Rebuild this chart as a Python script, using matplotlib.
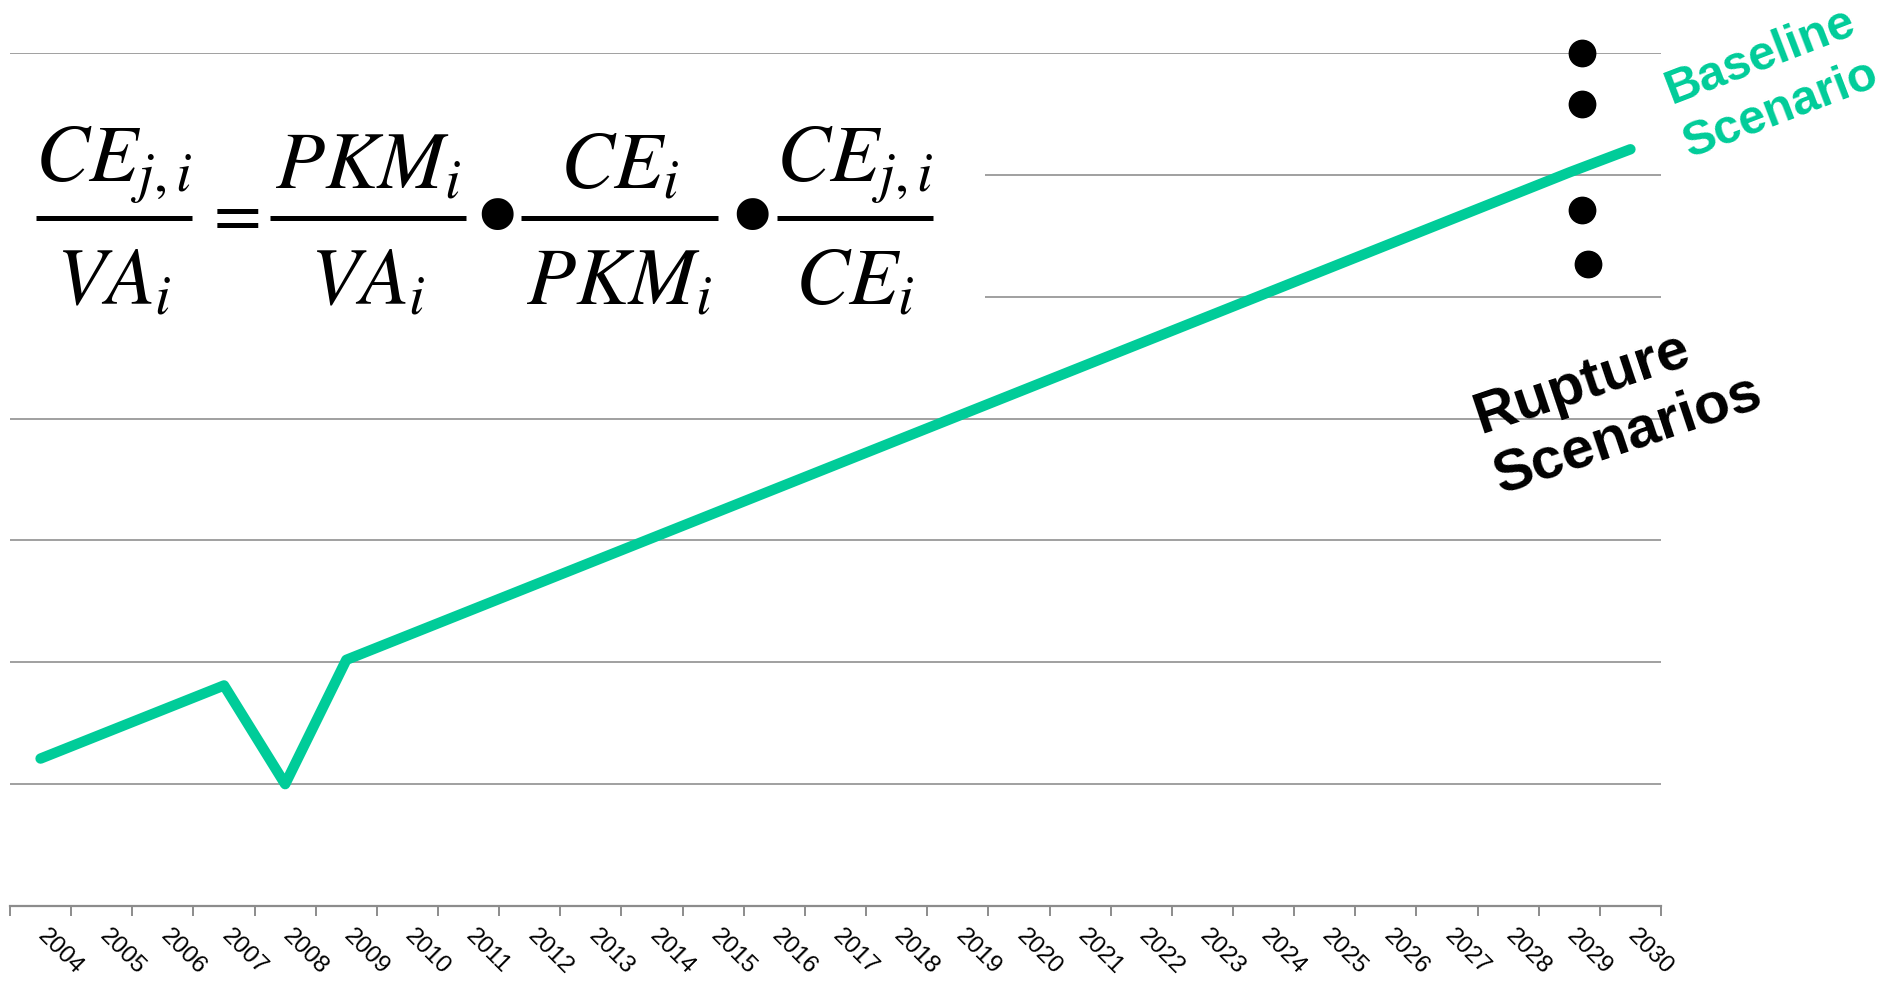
"""Baseline vs rupture scenarios chart with decomposition identity."""
import matplotlib
matplotlib.use('Agg')
import matplotlib.pyplot as plt
from matplotlib.patches import Rectangle
from matplotlib.lines import Line2D
from matplotlib.transforms import ScaledTranslation
import numpy as np

W, H = 1882, 981
GREEN = '#00CC99'
GREY = '#8c8c8c'

years = [str(y) for y in range(2004, 2031)]
baseline = [1.21, 1.41, 1.61, 1.81, 1.00, 2.02, 2.22, 2.42, 2.62, 2.82, 3.02, 3.22, 3.42, 3.62,
            3.82, 4.02, 4.22, 4.42, 4.62, 4.82, 5.02, 5.22, 5.42, 5.62, 5.82, 6.02, 6.21]
# rupture scenario end points (near 2029)
rupture_x = [25.2, 25.2, 25.2, 25.3]
rupture_y = [7.00, 6.58, 5.71, 5.27]

# identity CE_ji/VA_i = PKM_i/VA_i * CE_i/PKM_i * CE_ji/CE_i
num_terms = [r'$CE_{j,i}$', r'$PKM_i$', r'$CE_i$', r'$CE_{j,i}$']
den_terms = [r'$VA_i$', r'$VA_i$', r'$PKM_i$', r'$CE_i$']
ops = ['$=$', r'$\bullet$', r'$\bullet$']

plt.rcParams['font.family'] = ['Liberation Sans', 'DejaVu Sans']
plt.rcParams['mathtext.fontset'] = 'stix'

fig = plt.figure(figsize=(W / 100, H / 100), dpi=100)
ax = fig.add_axes([10 / W, (H - 906) / H, (1661 - 10) / W, (906 - 53) / H])
x = np.arange(len(years))
ax.plot(x, baseline, color=GREEN, lw=7.5, solid_capstyle='round', solid_joinstyle='round', zorder=3)
ax.plot(rupture_x, rupture_y, 'o', color='black', ms=19, clip_on=False, zorder=4)

ax.set_xlim(-0.5, len(years) - 0.5)
ax.set_ylim(0, 7)
ax.set_yticks(range(1, 8))
ax.yaxis.grid(True, color='#999999', lw=1.3)
ax.set_axisbelow(True)
ax.tick_params(axis='y', length=0, labelleft=False)
for s in ('top', 'right', 'left'):
    ax.spines[s].set_visible(False)
ax.spines['bottom'].set_color(GREY)
ax.spines['bottom'].set_linewidth(1.6)

ax.set_xticks(np.arange(-0.5, len(years)), labels=[''] * (len(years) + 1))
ax.tick_params(axis='x', which='major', length=7, width=1.4, color=GREY)
ax.set_xticks(x, labels=years, minor=True)
ax.tick_params(axis='x', which='minor', length=0, pad=14, labelsize=17.5)
off = ScaledTranslation(-7 / 100, 0, fig.dpi_scale_trans)
for lbl in ax.get_xticklabels(minor=True):
    lbl.set_rotation(-45)
    lbl.set_ha('left')
    lbl.set_va('top')
    lbl.set_transform(lbl.get_transform() + off)

# white panel behind the identity (hides the gridlines there)
ax.add_patch(Rectangle((0, 1 - 330 / H), 985 / W, 270 / H, transform=fig.transFigure,
                       facecolor='white', edgecolor='none', zorder=2.5, clip_on=False))


def fx(px):
    return px / W


def fy(py):
    return 1 - py / H


bars = [(36, 192), (270, 466), (521, 718), (777, 933)]
bar_y = 218
for (x0, x1), num, den in zip(bars, num_terms, den_terms):
    fig.add_artist(Line2D([fx(x0), fx(x1)], [fy(bar_y), fy(bar_y)], color='black', lw=3.6,
                          solid_capstyle='butt', zorder=5))
    xc = (x0 + x1) / 2
    fig.text(fx(xc), fy(206), num, fontsize=58, ha='center', va='bottom', zorder=5)
    fig.text(fx(xc), fy(246), den, fontsize=58, ha='center', va='top', zorder=5)
for xc, op in zip([231, 495, 750], ops):
    fig.text(fx(xc), fy(216 if op == '$=$' else 211), op, fontsize=50 if op == '$=$' else 85,
             ha='center', va='center', zorder=5)

fig.text(fx(1771), fy(83), 'Baseline\nScenario', color=GREEN, fontsize=35, fontweight='bold',
         rotation=21, rotation_mode='anchor', ha='center', va='center', linespacing=1.35)
fig.text(fx(1618), fy(405), 'Rupture\nScenarios', color='black', fontsize=42, fontweight='bold',
         rotation=18.5, rotation_mode='anchor', ha='center', va='center', multialignment='left',
         linespacing=1.2)

fig.savefig('out.png', dpi=100)
